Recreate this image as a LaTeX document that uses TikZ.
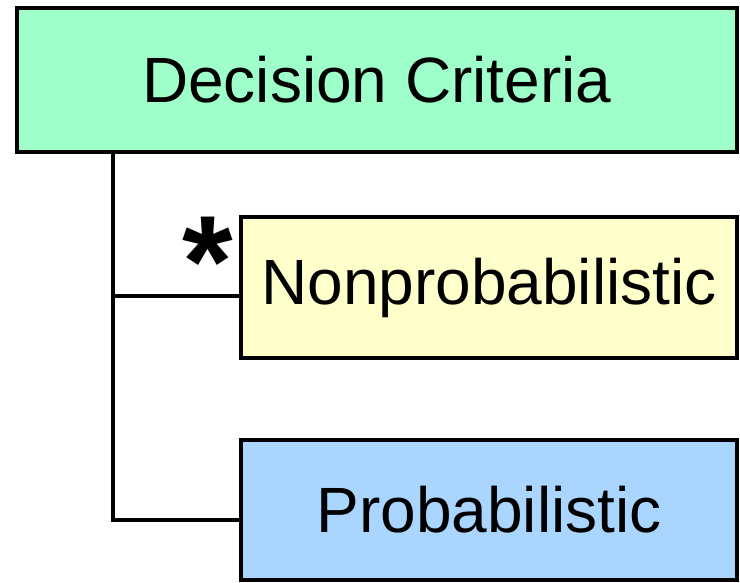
\documentclass[tikz,border=0pt]{standalone}
\usepackage{fontspec}
\setmainfont{Liberation Sans}
\definecolor{dcgreen}{RGB}{159,255,202}
\definecolor{npyellow}{RGB}{255,255,204}
\definecolor{pblue}{RGB}{170,213,255}
\begin{document}
\begin{tikzpicture}[x=1pt,y=-1pt,
  box/.style={draw=black,line width=4pt,inner sep=0pt,font=\fontsize{64}{70}\selectfont},
  conn/.style={draw=black,line width=4pt}]
\useasboundingbox (0,0) rectangle (740,583);
\node[box,fill=dcgreen,minimum width=719.5pt,minimum height=144pt] (dc) at (376.75,80) {Decision Criteria};
\node[box,fill=npyellow,minimum width=496pt,minimum height=141pt] (np) at (489,287.5) {Nonprobabilistic};
\node[box,fill=pblue,minimum width=496pt,minimum height=140pt] (pb) at (489,510) {Probabilistic};
\coordinate (top) at (113,152);
\coordinate (j1) at (113,296);
\coordinate (j2) at (113,519.5);
\draw[conn] (top) -- (j2) -- (pb.west |- j2);
\draw[conn] (j1) -- (np.west |- j1);
\node[font=\bfseries\fontsize{130}{130}\selectfont,inner sep=0pt] (ast) at (208,262) {*};
\end{tikzpicture}
\end{document}
